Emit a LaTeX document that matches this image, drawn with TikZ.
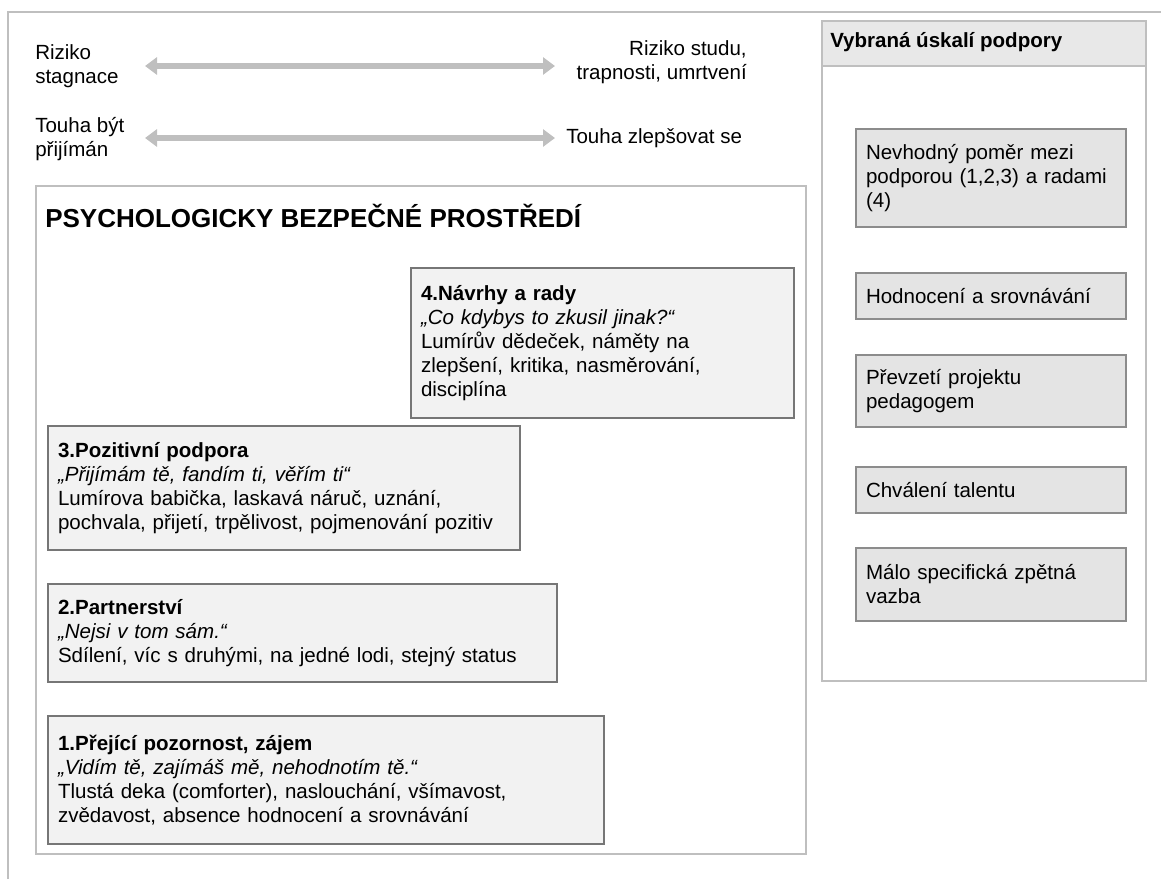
\documentclass[tikz,border=0pt]{standalone}
\usepackage{fontspec}
\setmainfont{Liberation Sans}
\usetikzlibrary{arrows.meta}
\definecolor{framegray}{RGB}{191,191,191}
\definecolor{boxfill}{RGB}{242,242,242}
\definecolor{boxline}{RGB}{118,118,118}
\definecolor{pitfill}{RGB}{228,228,228}
\definecolor{pitline}{RGB}{140,140,140}
\definecolor{headfill}{RGB}{232,232,232}
\newcommand{\bodysize}{\fontsize{15.4pt}{18pt}\selectfont}
\tikzset{
    %Define standard arrow tip
    >={Triangle[length=9pt,width=12.75pt]},
    %Define style for the ladder boxes
    stepbox/.style={
           rectangle,
           draw=boxline, line width=1.5pt,
           fill=boxfill,
           anchor=north west,
           inner xsep=7.5pt, inner ysep=0pt,
           align=left,
           font=\bodysize},
    %Define style for the pitfall boxes
    pitfall/.style={
           stepbox,
           draw=pitline,
           fill=pitfill,
           text width=187.5pt,
           minimum width=202.5pt},
    %Define style for the big frames
    frame/.style={
           rectangle,
           draw=framegray, line width=1.5pt,
           fill=white,
           anchor=north west,
           inner sep=0pt},
    plain/.style={
           inner sep=0pt,
           font=\bodysize},
    % Define arrow style
    pil/.style={
           <->,
           line width=4.5pt,
           draw=framegray}
}

\begin{document}
\begin{tikzpicture}[x=0.75pt,y=-0.75pt]
\useasboundingbox (0,0) rectangle (1161,879);
\draw[framegray, line width=1.5pt] (8,879) -- (8,12) -- (1161,12);

 %scales on top
\node[plain, anchor=west, align=left](r1) at (35,66){Riziko\\stagnace};
\node[plain, anchor=east, align=right](r2) at (747,62){Riziko studu,\\trapnosti, umrtvení};
\node[plain, anchor=west, align=left](t1) at (35,139){Touha být\\přijímán};
\node[plain, anchor=west](t2) at (566,138){Touha zlepšovat se};
\coordinate (r1e) at (145,66);
\coordinate (r2e) at (555,66);
\coordinate (t1e) at (145,138);
\coordinate (t2e) at (555,138);
\draw[pil] (r1e) -- (r2e);
\draw[pil] (t1e) -- (t2e);

 %safe environment
\node[frame, minimum width=577.5pt, minimum height=501pt](env) at (35,185){};
\node[anchor=west, inner sep=0pt, font=\fontsize{19.5pt}{23pt}\selectfont\bfseries](title) at (45,216){PSYCHOLOGICKY BEZPEČNÉ PROSTŘEDÍ};

\node[stepbox, text width=272.25pt, minimum height=112.5pt](4) at (410,267){\textbf{4.Návrhy a rady}\\\textit{„Co kdybys to zkusil jinak?“}\\Lumírův dědeček, náměty na\\zlepšení, kritika, nasměrování,\\disciplína};
\node[stepbox, text width=339pt, minimum height=93pt](3) at (47,425){\textbf{3.Pozitivní podpora}\\\textit{„Přijímám tě, fandím ti, věřím ti“}\\Lumírova babička, laskavá náruč, uznání,\\pochvala, přijetí, trpělivost, pojmenování pozitiv};
\node[stepbox, text width=366.75pt, minimum height=73.5pt](2) at (47,583){\textbf{2.Partnerství}\\\textit{„Nejsi v tom sám.“}\\Sdílení, víc s druhými, na jedné lodi, stejný status};
\node[stepbox, text width=402pt, minimum height=96pt](1) at (47,715){\textbf{1.Přející pozornost, zájem}\\\textit{„Vidím tě, zajímáš mě, nehodnotím tě.“}\\Tlustá deka (comforter), naslouchání, všímavost,\\zvědavost, absence hodnocení a srovnávání};

 %pitfalls
\node[frame, minimum width=243pt, minimum height=495pt](side) at (821,20){};
\node[frame, fill=headfill, minimum width=243pt, minimum height=33.75pt](head) at (821,20){};
\node[plain, anchor=west, font=\bodysize\bfseries] at (830,42){Vybraná úskalí podpory};
\node[pitfall, minimum height=73.5pt](p1) at (855,128){Nevhodný poměr mezi podporou (1,2,3) a radami (4)};
\node[pitfall, minimum height=34.5pt](p2) at (855,272){Hodnocení a srovnávání};
\node[pitfall, minimum height=54pt](p3) at (855,354){Převzetí projektu\\pedagogem};
\node[pitfall, minimum height=34.5pt](p4) at (855,466){Chválení talentu};
\node[pitfall, minimum height=54.75pt](p5) at (855,547){Málo specifická zpětná\\vazba};
\end{tikzpicture}
\end{document}
